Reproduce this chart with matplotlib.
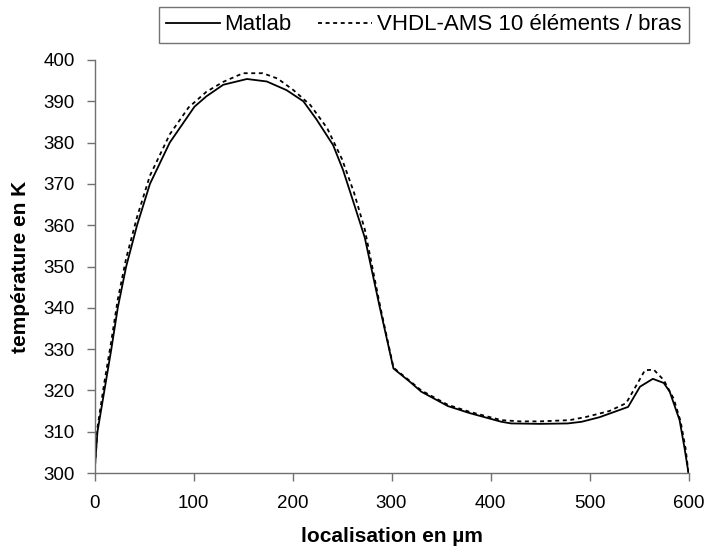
import matplotlib
matplotlib.use("Agg")
import matplotlib.pyplot as plt

plt.rcParams['font.family'] = ['Liberation Sans', 'DejaVu Sans']

x_matlab = [0, 3, 10, 17, 23.5, 32, 43, 56, 76, 101, 113, 130, 154, 174, 194, 211,
            224, 241, 251, 261, 273, 288, 302, 319, 330, 357, 379, 411, 421, 450,
            478, 492, 510, 539, 551, 564, 575, 581, 591, 596, 600]
t_matlab = [300, 310, 320, 330, 340, 350, 360, 370, 380, 388.7, 391.2, 394, 395.4, 394.8,
            392.7, 390, 385.7, 379.4, 373.4, 366, 357, 340.3, 325.3, 322, 319.7, 316.2,
            314.5, 312.4, 312, 311.9, 312, 312.4, 313.5, 316, 320.9, 322.8, 321.8, 319.7,
            312.8, 306, 300]

x_vhdl = [0, 3, 10, 17, 23.5, 32, 43, 56, 76, 95, 113, 130, 150, 170, 185, 201, 218,
          235, 250, 262, 273, 288, 302, 319, 330, 357, 379, 411, 430, 450, 480, 497,
          520, 537, 548, 556, 565, 575, 585, 592, 597, 600]
t_vhdl = [300, 311, 322, 332, 342, 352, 362, 372, 382, 388.5, 392.3, 394.7, 396.8, 396.8,
          395.5, 392.7, 389.1, 383.5, 376, 368, 359, 341, 325.5, 322.2, 320, 316.5, 314.8,
          312.8, 312.5, 312.5, 312.8, 313.6, 315, 316.9, 321.5, 324.9, 325, 322.5, 318,
          312.5, 306, 300]

x_ticks = [0, 100, 200, 300, 400, 500, 600]
y_ticks = [300, 310, 320, 330, 340, 350, 360, 370, 380, 390, 400]

fig = plt.figure(figsize=(7.07, 5.54), dpi=100)
ax = fig.add_axes([94.5 / 707, 1 - 473 / 554, (688.5 - 94.5) / 707, (473 - 60) / 554])

l1, = ax.plot(x_matlab, t_matlab, color='black', lw=1.3, label='Matlab')
l2, = ax.plot(x_vhdl, t_vhdl, color='black', lw=1.3, linestyle=(0, (2.2, 2.0)),
              label='VHDL-AMS 10 éléments / bras')

ax.set_xlim(0, 600)
ax.set_ylim(300, 400)
ax.set_xticks(x_ticks)
ax.set_yticks(y_ticks)
ax.spines['top'].set_visible(False)
ax.spines['right'].set_visible(False)
for s in ['left', 'bottom']:
    ax.spines[s].set_color('#707070')
    ax.spines[s].set_linewidth(1.0)
ax.tick_params(direction='out', length=6, width=1.0, color='#707070', labelsize=13.5,
               labelcolor='black')
ax.tick_params(axis='y', pad=8)
ax.tick_params(axis='x', pad=10)

ax.set_xlabel('localisation en µm', fontsize=15, fontweight='bold', labelpad=11)
ax.set_ylabel('température en K', fontsize=15, fontweight='bold', labelpad=10)

leg = fig.legend(handles=[l1, l2], ncol=2, loc='upper right',
                 bbox_to_anchor=(688.5 / 707, 1 - 7 / 554), frameon=True,
                 fancybox=False, edgecolor='#505050', fontsize=16, handlelength=2.4,
                 handletextpad=0.22, columnspacing=1.2, borderpad=0.33,
                 borderaxespad=0)
leg.get_frame().set_linewidth(1.0)

fig.savefig('out.png', dpi=100)
